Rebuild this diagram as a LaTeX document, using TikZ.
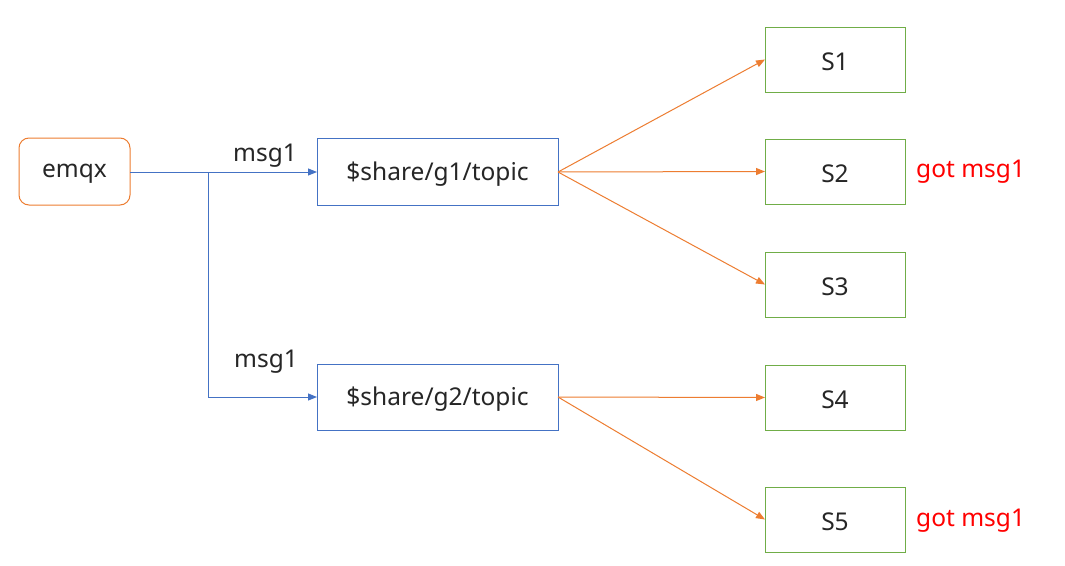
\documentclass[tikz,border=0pt]{standalone}
\usepackage{fontspec}
\setmainfont{Noto Sans}
\usetikzlibrary{arrows.meta}
\definecolor{orng}{HTML}{ED7D31}
\definecolor{blu}{HTML}{4472C4}
\definecolor{grn}{HTML}{70AD47}
\definecolor{txt}{HTML}{262626}
\begin{document}
\begin{tikzpicture}[x=1pt,y=-1pt,
  every node/.style={font=\fontsize{24.5}{28}\selectfont, text=txt, inner sep=0pt},
  emqxbox/.style={draw=orng, line width=1pt, rounded corners=10pt, fill=white},
  topicbox/.style={draw=blu, line width=1pt, fill=white},
  subbox/.style={draw=grn, line width=1pt, fill=white},
  blink/.style={draw=blu, line width=1pt, -{Triangle[length=9pt,width=7pt]}},
  olink/.style={draw=orng, line width=1pt, -{Triangle[length=9pt,width=7pt]}},
  got/.style={text=red, anchor=west}
]
\useasboundingbox (0,0) rectangle (1065,565);
\fill[white] (0,0) rectangle (1065,565);
% boxes
\draw[emqxbox] (19,138) rectangle (130,205);
\node (emqx) at (74.5,174) {emqx};
\coordinate (emqxR) at (130,172);
\draw[topicbox] (317,138) rectangle (558,205);
\node (g1) at (437.5,174) {\$share/g1/topic};
\coordinate (g1L) at (317,172);
\coordinate (g1R) at (558,172);
\draw[topicbox] (317,364) rectangle (558,430);
\node (g2) at (437.5,399.5) {\$share/g2/topic};
\coordinate (g2L) at (317,397);
\coordinate (g2R) at (558,397);
\foreach \n/\t/\b in {1/27/92, 2/139/204, 3/252/317, 4/365/430, 5/487/552}{
  \draw[subbox] (765,\t) rectangle (905,\b);
  \node (s\n) at (835,{(\t+\b)/2+2}) {S\n};
  \coordinate (s\n L) at (765,{(\t+\b)/2});
}
% blue connectors
\coordinate (br) at (208,172);
\draw[blink] (emqxR) -- (g1L);
\draw[blink] (br) |- (g2L);
\node (m1) at (265,156) {msg1};
\node (m2) at (266,362) {msg1};
% orange connectors
\draw[olink] (g1R) -- (s1L);
\draw[olink] (g1R) -- (s2L);
\draw[olink] (g1R) -- (s3L);
\draw[olink] (g2R) -- (s4L);
\draw[olink] (g2R) -- (s5L);
% labels
\node[got] (got2) at (916,172) {got msg1};
\node[got] (got5) at (916,521) {got msg1};
\end{tikzpicture}
\end{document}
